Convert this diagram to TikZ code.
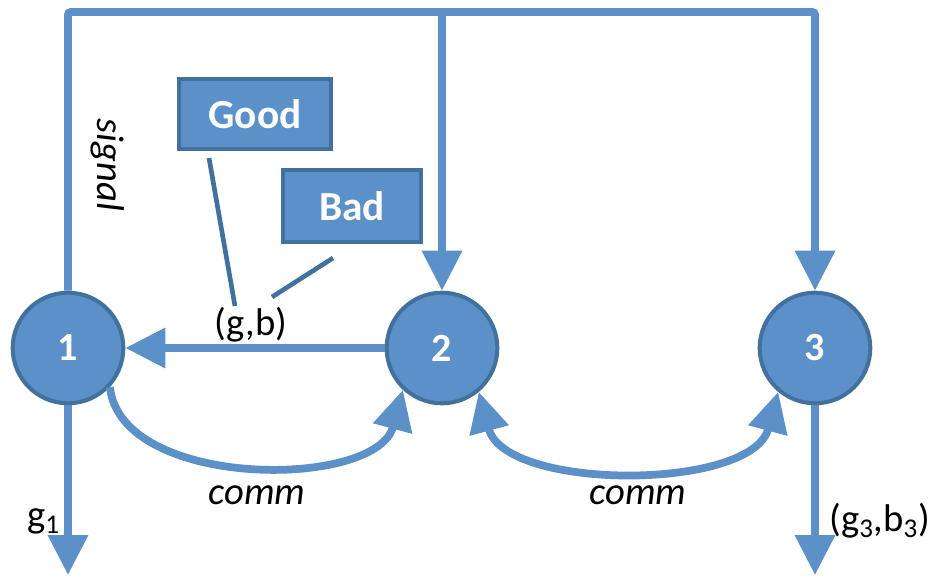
\documentclass[tikz,border=0pt]{standalone}
\usepackage{fontspec}
\setmainfont{Carlito}
\usetikzlibrary{arrows.meta}
\definecolor{fillblue}{HTML}{5B90C8}
\definecolor{edgeblue}{HTML}{41719C}
\tikzset{
  flow/.style={draw=fillblue, line width=5.8pt},
  tip/.style={-{Triangle[length=30pt,width=29pt]}},
  agent/.style={circle, draw=edgeblue, fill=fillblue, line width=3pt,
    minimum size=83pt, inner sep=0pt, text=white, font=\fontsize{30}{32}\selectfont\bfseries},
  tag/.style={draw=edgeblue, fill=fillblue, line width=3pt, text=white,
    font=\fontsize{31}{34}\selectfont\bfseries, inner sep=0pt},
  lead/.style={draw=edgeblue, line width=3.5pt},
  lbl/.style={font=\fontsize{29}{31}\selectfont, inner sep=0pt},
  ilbl/.style={font=\fontsize{29}{31}\selectfont\itshape, inner sep=0pt}
}
\begin{document}
\begin{tikzpicture}[x=0.75pt, y=-0.75pt]
\useasboundingbox (0,0) rectangle (928,575);

% agents
\node[agent] (n1) at (68,348) {1};
\node[agent] (n2) at (442,348) {2};
\node[agent] (n3) at (815,348) {3};

% signal frame along the top
\coordinate (c1) at (68,12);
\coordinate (c3) at (815,12);
\coordinate (cm) at (442,12);
\draw[flow, tip, rounded corners=2pt] (n1.north) -- (c1) -- (c3) -- (n3.north);
\draw[flow, tip] (cm) -- (n2.north);
\node[ilbl, rotate=-90] (sig) at (108,165) {signal};

% report from 2 to 1
\draw[flow, tip] (n2.west) -- (n1.east);
\node[lbl] (gb) at (251,325) {(g,b)};

% Good / Bad tags
\node[tag, minimum width=114pt, minimum height=52pt] (good) at (255,114) {Good};
\node[tag, minimum width=103pt, minimum height=54pt] (bad) at (352,206) {Bad};
\coordinate (gA) at (209,158);
\coordinate (gB) at (235,306);
\coordinate (bA) at (333,258);
\coordinate (bB) at (272,297);
\draw[lead] (gA) -- (gB);
\draw[lead] (bA) -- (bB);

% communication links
\draw[flow, tip] (n1.-43) to[out=-84, in=-105, looseness=0.9] (n2.-133);
\draw[flow, {Triangle[length=30pt,width=29pt]}-{Triangle[length=30pt,width=29pt]}]
  (n2.-50) to[out=-75, in=-105, looseness=0.88] (n3.-130);
\node[ilbl] (comm1) at (257,495) {comm};
\node[ilbl] (comm2) at (638,495) {comm};

% outputs
\coordinate (o1) at (68,575);
\coordinate (o3) at (815,575);
\draw[flow, tip] (n1.south) -- (o1);
\draw[flow, tip] (n3.south) -- (o3);
\node[lbl, anchor=east] (g1) at (60,521) {g\textsubscript{1}};
\node[lbl, anchor=west] (g3) at (829,521) {(g\textsubscript{3},b\textsubscript{3})};
\end{tikzpicture}
\end{document}
